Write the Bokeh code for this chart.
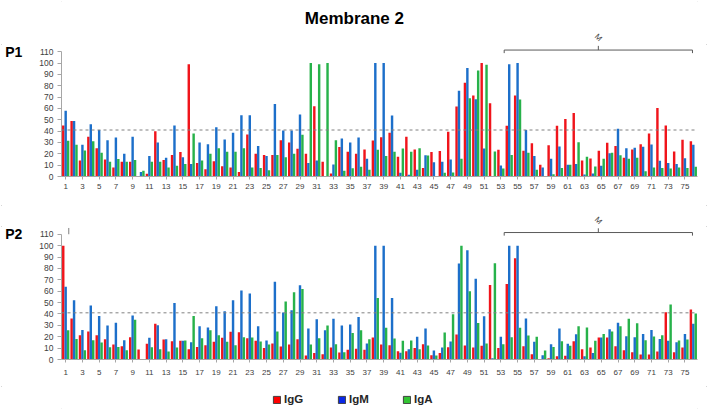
import math
from bokeh.plotting import figure
from bokeh.models import ColumnDataSource, FixedTicker, Span, Legend, LegendItem, Range1d
from bokeh.layouts import column
from bokeh.transform import dodge
from bokeh.embed import file_html
from bokeh.resources import INLINE
from bokeh.core.properties import value

# ---------------- data ----------------
categories = list(range(1, 77))
x_tick_labels = list(range(1, 77, 2))
y_ticks = list(range(0, 111, 10))
series_names = ["IgG", "IgM", "IgA"]
chart_title = "Membrane 2"
panel_names = ["P1", "P2"]
threshold = 41
bracket_start = 53.4
bracket_end = 75.9
bracket_label = "M"

p1_igg = [45, 49, 14, 35, 25, 15, 8, 13, 13, 0, 2.5, 40, 14.5, 19, 21.5, 99, 12, 6.5, 13.5, 9,
          8, 4, 37, 20, 19, 19, 32, 30, 24.4, 20, 62, 13, 2.6, 26, 21.8, 20, 23.8, 31.8, 34.7, 38.5,
          17.4, 35, 23.8, 7.6, 21.5, 22.4, 39.4, 61.8, 82.6, 71.5, 100, 64.7, 23.5, 44.7, 71.5, 22.6, 29.4, 10.3, 27.6, 44.7,
          50.6, 56, 14, 15.9, 22.6, 29.7, 26.8, 16.5, 23.8, 28.5, 38, 60.3, 45, 22, 32.4, 31]
p1_igm = [58, 49, 28, 46, 41, 32, 34.5, 20, 35, 4, 18, 30, 16.5, 45, 17, 11, 30, 28.5, 43.5, 32.6,
          38.5, 54, 54, 27, 18, 64, 40.6, 40.6, 54.7, 12, 14, 0, 10.6, 33.5, 30, 34.4, 15.6, 100, 100, 53.8,
          3.2, 1.5, 5.9, 18.8, 12.6, 13, 15, 75.6, 95.6, 68.2, 24.7, 0, 9.7, 99, 100, 41, 18, 8, 15.6, 26.5,
          10.3, 11, 1.8, 2.6, 9.4, 20.6, 42, 25, 25.3, 26.2, 28.2, 13.8, 12, 11, 16, 28]
p1_iga = [31.5, 28, 23, 31, 21, 13, 15.5, 13, 14.5, 5, 13, 13, 8, 9.5, 11, 38, 14, 20, 25, 21.8,
          21.8, 25, 8, 7.6, 5.6, 19, 17, 20, 36.8, 100, 99, 100, 32, 5, 7.2, 8.5, 5.9, 23.5, 18, 21.8,
          24.7, 21.8, 25, 18.5, 0, 3.2, 3.5, 15.6, 69, 93.5, 98.5, 22, 7, 19, 68, 21, 5.9, 0, 2, 7.6,
          10.3, 30.3, 17.4, 8.8, 15.6, 21, 18.8, 15.6, 16.5, 4.7, 7.9, 7.6, 7, 8, 7.4, 8.5]

p2_igg = [100, 36, 21.4, 24.6, 21.4, 17.8, 13.2, 11.7, 19.6, 8.8, 13.8, 31.3, 17.6, 16, 16.4, 9, 11, 12.6, 15.5, 19,
          24.3, 24, 18.7, 16.4, 10, 14, 11.4, 13.2, 17.8, 3.5, 5.6, 4.7, 10.5, 6.1, 8.5, 9.4, 8.5, 19.3, 13.2, 12.6,
          7.3, 7.3, 10.2, 13.5, 3.8, 5.6, 10.8, 21.9, 12.3, 10.5, 12, 65.5, 10.2, 66.4, 89, 11.7, 4.7, 0, 1.2, 2.9,
          3.2, 16, 9, 10.5, 19.3, 19.3, 11.7, 8.2, 6.4, 4.4, 4.4, 7, 41.5, 6.4, 10.5, 43.9]
p2_igm = [63.8, 52, 26, 47.4, 38.3, 29.8, 32.2, 17, 38.6, 0, 19, 30, 17.8, 49.7, 16.4, 15.2, 29.3, 28, 46.8, 42.4,
          52, 60.6, 58, 29.3, 16.7, 68.2, 41.3, 43.3, 65.2, 27.2, 35.4, 25.7, 35.7, 29.8, 30.7, 37.4, 14, 100, 100, 54,
          5.9, 9, 19.9, 27.2, 7.9, 10.5, 15.8, 84.3, 96, 71, 38, 1, 19.9, 100, 100, 36, 15.5, 3.8, 13.5, 27.2,
          13.8, 22.2, 2.9, 5.6, 19.3, 26.6, 32.2, 20.5, 19.6, 22.5, 26, 18.1, 16.4, 15.2, 22.5, 31.3]
p2_iga = [25.7, 18, 8.2, 17, 15, 10.8, 11, 8.2, 35, 0, 10.8, 9, 7, 10.5, 16.7, 38.3, 18.7, 25.7, 21.4, 15.5,
          12.6, 19.6, 19.3, 15.8, 13.2, 24.6, 51, 59, 62, 13.2, 18.7, 29.8, 13.5, 6.4, 23.2, 25.7, 17.8, 54, 27.8, 18.4,
          16.4, 16.7, 9, 12.3, 3.5, 23.7, 39.8, 100, 60, 32, 14, 84.6, 13.5, 19.6, 27.8, 21, 19.9, 7.9, 11, 16,
          12, 29.3, 28, 16.4, 22.5, 24.6, 29.3, 35.7, 31.9, 17, 20.2, 21.4, 48.3, 16.7, 17.6, 40.4]

# ---------------- styling ----------------
FONT = "Liberation Sans"
COLORS = {"IgG": "#f0141b", "IgM": "#1c6fca", "IgA": "#27b24a"}
LEGEND_COLORS = {"IgG": "#ff0000", "IgM": "#0a28e6", "IgA": "#33c433"}
AXIS_COLOR = "#a6a6a6"
TEXT_COLOR = "#404040"
W = 708
LEFT, RIGHT = 61, 11
MID = (bracket_start + bracket_end) / 2


def strip(height):
    f = figure(width=W, height=height, x_range=Range1d(0.5, 76.5), y_range=Range1d(0, height),
               output_backend="svg", toolbar_location=None, x_axis_location=None,
               y_axis_location=None, min_border_left=LEFT, min_border_right=RIGHT,
               min_border_top=0, min_border_bottom=0)
    f.outline_line_color = None
    f.grid.visible = False
    return f


def bracket_text(f, y):
    f.text(x=[MID], y=[y], text=[bracket_label], angle=-math.pi / 4,
           text_align="center", text_baseline="middle", text_font=value(FONT),
           text_font_size="8px", text_color=TEXT_COLOR)


def make_panel(name, igg, igm, iga, height, bottom, ytop, std, tick_mark=None):
    p = figure(width=W, height=height, x_range=Range1d(0.5, 76.5), y_range=Range1d(0, ytop),
               output_backend="svg", toolbar_location=None,
               min_border_left=LEFT, min_border_right=RIGHT, min_border_top=0,
               min_border_bottom=bottom)
    p.outline_line_color = None
    p.grid.visible = False

    src = ColumnDataSource(dict(cat=categories, IgG=igg, IgM=igm, IgA=iga))
    w = 0.29
    for off, s in zip((-w, 0.0, w), series_names):
        p.vbar(x=dodge("cat", off), top=s, bottom=0, width=w, source=src,
               fill_color=COLORS[s], line_color=None)

    p.add_layout(Span(location=threshold, dimension="width", line_color="#808080",
                      line_dash="3 3", line_width=1))

    xa = p.xaxis[0]
    xa.ticker = FixedTicker(ticks=x_tick_labels)
    xa.bounds = (0.5, 76.5)
    xa.axis_line_color = AXIS_COLOR
    xa.major_tick_line_color = AXIS_COLOR
    xa.major_tick_out = 3
    xa.major_tick_in = 0
    xa.minor_tick_line_color = None
    xa.major_label_text_font = FONT
    xa.major_label_text_font_size = "8px"
    xa.major_label_text_color = TEXT_COLOR
    xa.major_label_standoff = std

    ya = p.yaxis[0]
    ya.ticker = FixedTicker(ticks=y_ticks)
    ya.bounds = (0, 110)
    ya.axis_line_color = AXIS_COLOR
    ya.major_tick_line_color = AXIS_COLOR
    ya.major_tick_out = 4
    ya.major_tick_in = 0
    ya.minor_tick_line_color = None
    ya.major_label_text_font = FONT
    ya.major_label_text_font_size = "8.5px"
    ya.major_label_text_color = TEXT_COLOR
    ya.major_label_standoff = 4
    # panel name as a horizontal axis label at the top end of the value axis
    # (a leading empty line drops it just below the frame's top edge)
    ya.axis_label = "\n" + name
    ya.axis_label_text_font = FONT
    ya.axis_label_text_font_size = "14px"
    ya.axis_label_text_font_style = "bold"
    ya.axis_label_text_color = "#000000"
    ya.axis_label_text_line_height = 0.9
    ya.axis_label_standoff = 14
    try:
        ya.axis_label_orientation = "horizontal"
    except Exception:
        pass
    try:
        ya.axis_label_align = "end"
    except Exception:
        pass

    # bracket lines
    yl, yh, yt = 111.5, 108.8, 115.2
    p.segment(x0=[bracket_start, bracket_start, bracket_end, MID],
              y0=[yl, yl, yl, yl],
              x1=[bracket_end, bracket_start, bracket_end, MID],
              y1=[yl, yh, yh, yt], line_color="#595959", line_width=1)
    if tick_mark is not None:
        p.segment(x0=[tick_mark], y0=[110], x1=[tick_mark], y1=[115.5],
                  line_color="#7f7f7f", line_width=1)
    return p


# top strip: title and bracket label of P1
t1 = strip(44)
t1.text(x=[35.5], y=[26.5], text=[chart_title], text_align="center", text_baseline="middle",
        text_font=value(FONT), text_font_size="17px", text_font_style="bold",
        text_color="#000000")
bracket_text(t1, 7)

p1 = make_panel(panel_names[0], p1_igg, p1_igm, p1_iga, height=161, bottom=29,
                ytop=116.4, std=4)

t2 = strip(21)
bracket_text(t2, 6)

p2 = make_panel(panel_names[1], p2_igg, p2_igm, p2_iga, height=160, bottom=27,
                ytop=116.8, std=7, tick_mark=1.37)

# legend strip
f3 = figure(width=W, height=24, x_range=Range1d(0, 636), y_range=Range1d(0, 24),
            output_backend="svg", toolbar_location=None, x_axis_location=None,
            y_axis_location=None, min_border_left=LEFT, min_border_right=RIGHT,
            min_border_top=0, min_border_bottom=0)
f3.outline_line_color = None
f3.grid.visible = False
items = []
for s in series_names:
    r = f3.quad(left=[-100], right=[-99], top=[-100], bottom=[-99], fill_color=LEGEND_COLORS[s],
                line_color="#404040", line_width=1)
    items.append(LegendItem(label=s, renderers=[r]))
leg = Legend(items=items, orientation="horizontal", location=(211, 5),
             glyph_width=9, glyph_height=9, label_standoff=3, spacing=33,
             padding=0, margin=0, border_line_color=None, background_fill_alpha=0,
             label_text_font=FONT, label_text_font_size="11.5px", label_text_font_style="bold",
             label_text_color="#262626", label_height=10)
f3.add_layout(leg)

layout = column(t1, p1, t2, p2, f3, spacing=0,
                styles={"outline": "1px solid #c8c8c8", "outline-offset": "-2px"})
open("out.html", "w").write(file_html(layout, INLINE))
